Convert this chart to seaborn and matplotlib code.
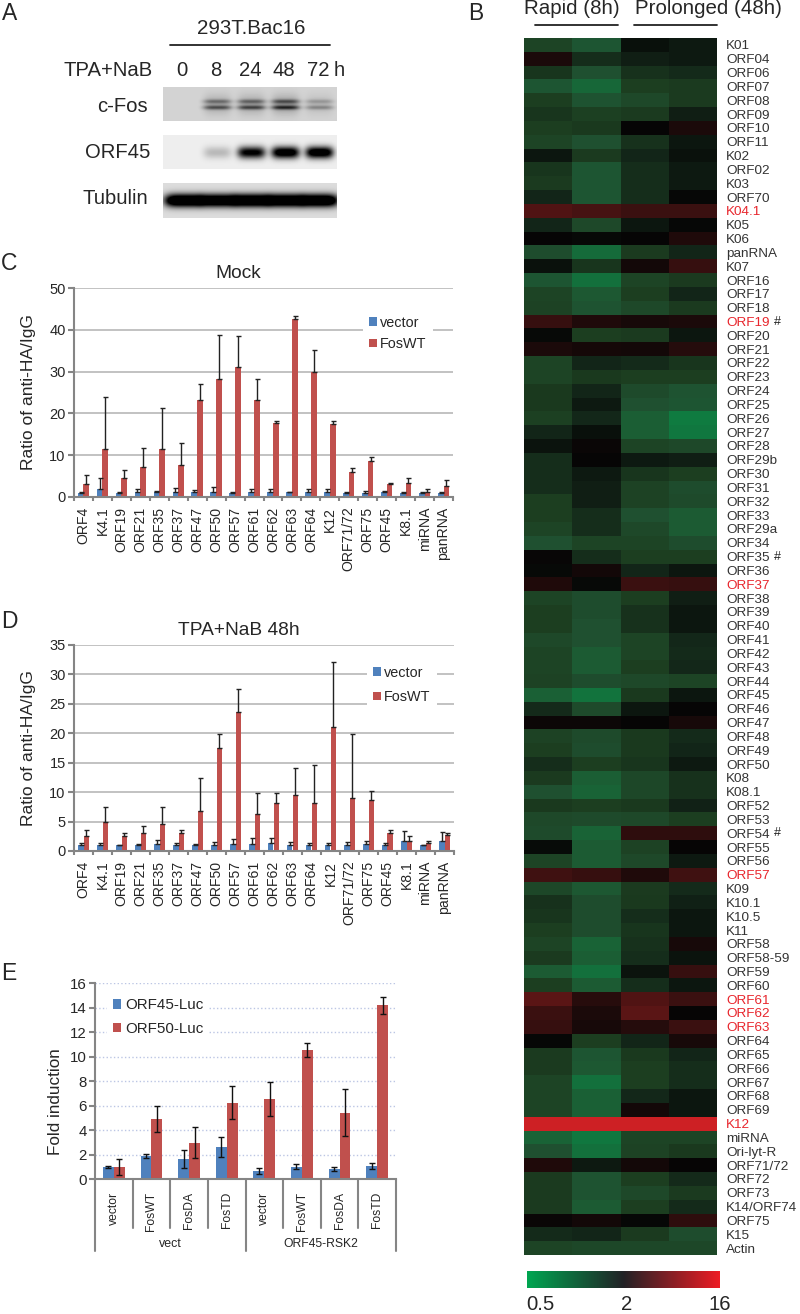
import numpy as np
import pandas as pd
import seaborn as sns
import matplotlib.pyplot as plt
from matplotlib.colors import LinearSegmentedColormap
from matplotlib.transforms import blended_transform_factory

W, H = 800, 1314
BLUE = '#4F81BD'
RED = '#C0504D'
TEXT = '#262626'
GRID = '#BDBDBD'
AXIS = '#858585'

## Panel A - band strength per lane (0 = none, 1 = black)
lanes = ['0', '8', '24', '48', '72']
cfos_bands = [0.0, 0.55, 0.6, 0.72, 0.32]
orf45_bands = [0.0, 0.18, 0.85, 0.98, 1.0]
tubulin_bands = [0.97, 0.93, 0.98, 0.96, 0.96]

## Panels C and D
genes = ['ORF4', 'K4.1', 'ORF19', 'ORF21', 'ORF35', 'ORF37', 'ORF47', 'ORF50', 'ORF57', 'ORF61',
         'ORF62', 'ORF63', 'ORF64', 'K12', 'ORF71/72', 'ORF75', 'ORF45', 'K8.1', 'miRNA', 'panRNA']
mock_vector = [1, 2, 1, 1.1, 1.2, 1.3, 1.3, 1.3, 1, 1.1, 1.1, 1.2, 1.1, 1.1, 1, 1, 1.1, 1, 1, 1]
mock_vector_top = [1.2, 4.6, 1.2, 1.8, 1.4, 2.2, 1.7, 2.4, 1.1, 2, 1.8, 1.3, 2, 1.8, 1.3, 1.5, 1.5, 1.1, 1.3, 1.3]
mock_fos = [3.1, 11.5, 4.6, 7.2, 11.5, 7.7, 23.3, 28.2, 31.1, 23.1, 17.7, 42.5, 29.9, 17.5, 5.9, 8.5, 3.1, 3.3, 1.2, 2.6]
mock_fos_top = [5.2, 24, 6.5, 11.8, 21.2, 13, 27, 38.8, 38.4, 28.3, 18.3, 43.3, 35.2, 18.3, 7, 9.5, 3.3, 4.5, 2, 4.1]

tpa_vector = [1.1, 1.1, 1.1, 1.1, 1.2, 1.1, 1.1, 1.1, 1.2, 1.2, 1.3, 1.1, 1.1, 1.1, 1.1, 1.2, 1.1, 1.7, 1, 1.7]
tpa_vector_top = [1.3, 1.3, 1.1, 1.15, 1.8, 1.3, 1.15, 1.6, 2, 2.2, 2.2, 1.6, 1.4, 1.4, 1.6, 1.7, 1.4, 3.4, 1.05, 3.3]
tpa_fos = [2.6, 5, 2.6, 3, 4.6, 3, 6.7, 17.4, 23.6, 6.3, 8.1, 9.5, 8.1, 21.1, 9, 8.6, 3, 1.7, 1.4, 2.7]
tpa_fos_top = [3.5, 7.5, 3, 4.2, 7.5, 3.6, 12.4, 19.9, 27.4, 9.8, 9.8, 14, 14.6, 32, 19.9, 10.2, 3.6, 2.5, 1.7, 3.1]

## Panel E
luc_labels = ['vector', 'FosWT', 'FosDA', 'FosTD', 'vector', 'FosWT', 'FosDA', 'FosTD']
luc_orf45 = [1.0, 1.9, 1.65, 2.65, 0.7, 1.03, 0.83, 1.07]
luc_orf45_err = [0.1, 0.2, 0.75, 0.8, 0.25, 0.2, 0.17, 0.22]
luc_orf50 = [1.0, 4.9, 3.0, 6.25, 6.55, 10.55, 5.45, 14.2]
luc_orf50_err = [0.65, 1.05, 1.28, 1.35, 1.42, 0.58, 1.9, 0.7]

## Panel B - colour position from -1 (0.5) through 0 (2) to 1 (16)
heat_genes = ['K01', 'ORF04', 'ORF06', 'ORF07', 'ORF08', 'ORF09', 'ORF10', 'ORF11', 'K02', 'ORF02',
              'K03', 'ORF70', 'K04.1', 'K05', 'K06', 'panRNA', 'K07', 'ORF16', 'ORF17', 'ORF18',
              'ORF19', 'ORF20', 'ORF21', 'ORF22', 'ORF23', 'ORF24', 'ORF25', 'ORF26', 'ORF27', 'ORF28',
              'ORF29b', 'ORF30', 'ORF31', 'ORF32', 'ORF33', 'ORF29a', 'ORF34', 'ORF35', 'ORF36', 'ORF37',
              'ORF38', 'ORF39', 'ORF40', 'ORF41', 'ORF42', 'ORF43', 'ORF44', 'ORF45', 'ORF46', 'ORF47',
              'ORF48', 'ORF49', 'ORF50', 'K08', 'K08.1', 'ORF52', 'ORF53', 'ORF54', 'ORF55', 'ORF56',
              'ORF57', 'K09', 'K10.1', 'K10.5', 'K11', 'ORF58', 'ORF58-59', 'ORF59', 'ORF60', 'ORF61',
              'ORF62', 'ORF63', 'ORF64', 'ORF65', 'ORF66', 'ORF67', 'ORF68', 'ORF69', 'K12', 'miRNA',
              'Ori-lyt-R', 'ORF71/72', 'ORF72', 'ORF73', 'K14/ORF74', 'ORF75', 'K15', 'Actin']
red_genes = ['K04.1', 'ORF19', 'ORF37', 'ORF57', 'ORF61', 'ORF62', 'ORF63', 'K12']
hash_genes = ['ORF19', 'ORF35', 'ORF54']
rapid_a = [-.35, .08, -.25, -.5, -.3, -.25, -.3, -.35, -.08, -.25,
           -.28, -.15, .3, -.15, 0, -.42, -.06, -.5, -.35, -.33,
           .18, -.02, .08, -.35, -.35, -.27, -.27, -.32, -.15, -.07,
           -.2, -.2, -.2, -.3, -.3, -.35, -.45, .01, -.02, .1,
           -.35, -.3, -.3, -.38, -.35, -.35, -.33, -.6, -.18, .03,
           -.33, -.3, -.2, -.28, -.45, -.27, -.38, -.4, -.03, -.35,
           .22, -.37, -.22, -.25, -.3, -.35, -.28, -.55, -.3, .35,
           .2, .18, -.01, -.28, -.28, -.35, -.35, -.35, .87, -.62,
           -.45, .1, -.28, -.28, -.28, .02, -.18, -.35]
rapid_b = [-.5, -.2, -.45, -.65, -.48, -.32, -.27, -.45, -.28, -.5,
           -.5, -.5, .25, -.38, -.02, -.68, -.25, -.72, -.52, -.48,
           .1, -.3, .06, -.15, -.27, -.15, -.1, -.17, -.05, .02,
           0, -.1, -.12, -.12, -.2, -.2, -.35, -.2, .05, -.02,
           -.42, -.42, -.45, -.45, -.55, -.55, -.42, -.75, -.4, .03,
           -.4, -.42, -.3, -.58, -.62, -.3, -.4, -.62, -.55, -.55,
           .18, -.52, -.42, -.42, -.42, -.62, -.58, -.72, -.55, .13,
           .08, .07, -.3, -.5, -.52, -.72, -.6, -.6, .87, -.78,
           -.72, -.1, -.48, -.48, -.55, .05, -.15, -.37]
prolonged_a = [-.05, -.12, -.22, -.3, -.38, -.28, 0, -.22, -.15, -.2,
               -.2, -.2, .2, -.08, 0, -.28, .05, -.35, -.3, -.38,
               .07, -.28, .05, -.18, -.3, -.4, -.45, -.58, -.58, -.35,
               -.1, -.25, -.33, -.33, -.45, -.38, -.35, -.3, -.15, .2,
               -.3, -.22, -.22, -.35, -.35, -.3, -.38, -.27, -.08, 0,
               -.27, -.27, -.25, -.37, -.37, -.27, -.38, .15, -.33, -.38,
               .1, -.28, -.27, -.2, -.25, -.22, -.2, -.07, -.2, .3,
               .35, .12, -.15, -.27, -.3, -.3, -.17, .05, .87, -.35,
               -.33, .05, -.3, -.38, -.3, -.01, -.28, -.37]
prolonged_b = [-.1, -.1, -.18, -.28, -.28, -.12, .08, -.08, -.06, -.1,
               -.1, -.01, .2, -.01, .1, -.15, .18, -.28, -.15, -.28,
               .08, -.08, .12, -.25, -.3, -.48, -.5, -.8, -.78, -.38,
               -.12, -.3, -.42, -.4, -.55, -.55, -.42, -.3, -.08, .18,
               -.12, -.08, -.08, -.17, -.18, -.17, -.35, -.08, 0, .07,
               -.18, -.15, -.1, -.22, -.22, -.14, -.3, .15, 0, -.1,
               .22, -.18, -.13, -.08, -.08, .07, -.07, .18, -.08, .2,
               0, .2, .07, -.15, -.2, -.2, -.08, -.08, .87, -.35,
               -.27, 0, -.18, -.28, -.18, .15, -.42, -.37]

sns.set_theme(style='white')
plt.rcParams['font.family'] = ['Liberation Sans', 'DejaVu Sans']
plt.rcParams['text.color'] = TEXT

fig = plt.figure(figsize=(W / 100, H / 100), dpi=100)


def px_axes(x0, y0, x1, y1):
    return fig.add_axes([x0 / W, 1 - y1 / H, (x1 - x0) / W, (y1 - y0) / H])


def px_text(x, y, s, size, ha='center', va='center', **kw):
    fig.text(x / W, 1 - y / H, s, fontsize=size, ha=ha, va=va, **kw)


def px_line(x0, x1, y, lw=1.3, color='#222222'):
    fig.add_artist(plt.Line2D([x0 / W, x1 / W], [1 - y / H, 1 - y / H], color=color, lw=lw))


def blot(x0, y0, x1, y1, bands, bg, rows, half_w):
    # synthetic gel strip built from the band strengths
    ax = px_axes(x0, y0, x1, y1)
    nx, ny = int(x1 - x0), int(y1 - y0)
    xx, yy = np.meshgrid(np.arange(nx), np.arange(ny))
    dark = np.zeros((ny, nx))
    for i, b in enumerate(bands):
        cx = 20 + 34 * i
        for cy, half_h, k in rows:
            dark += b * k * np.exp(-((xx - cx) / half_w) ** 4 - ((yy - cy) / half_h) ** 2)
    img = bg * (1 - np.clip(dark, 0, 1))
    ax.imshow(img, cmap='gray', vmin=0, vmax=255, aspect='auto', interpolation='bilinear')
    ax.set_axis_off()


## Panel A
px_text(10, 13, 'A', 16.5)
px_text(251, 28, '293T.Bac16', 14.8)
px_line(170, 330, 45)
px_text(153, 71, 'TPA+NaB', 14.6, ha='right')
for i, lane in enumerate(lanes):
    px_text(182 + 34 * i, 71, lane, 14.6)
px_text(339, 71, 'h', 14.6)
px_text(148, 106, 'c-Fos', 14.6, ha='right')
px_text(150, 152, 'ORF45', 14.6, ha='right')
px_text(148, 199, 'Tubulin', 14.6, ha='right')
blot(163, 87, 337, 121, cfos_bands, 212, [(14, 2.2, .6), (20, 2.2, .85), (17, 10, .35)], 14)
blot(163, 135, 337, 169, orf45_bands, 238, [(17, 6, 1.25)], 14)
blot(163, 183, 337, 218, tubulin_bands, 220, [(17, 6.5, 1.6)], 19)


def chip_panel(x0, y0, x1, y1, vector, vector_top, fos, fos_top, ymax, step, title, title_y, leg_xy, spacing):
    ax = px_axes(x0, y0, x1, y1)
    n = len(genes)
    df = pd.DataFrame({'gene': genes * 2, 'ratio': list(vector) + list(fos),
                       'group': ['vector'] * n + ['FosWT'] * n})
    sns.barplot(data=df, x='gene', y='ratio', hue='group', palette=[BLUE, RED], width=.6,
                errorbar=None, saturation=1, linewidth=0, ax=ax)
    for cont, vals, tops in zip(ax.containers, [vector, fos], [vector_top, fos_top]):
        xs = [p.get_x() + p.get_width() / 2 for p in cont.patches]
        up = np.array(tops) - np.array(vals)
        ax.errorbar(xs, vals, yerr=[np.zeros(n), up], fmt='none', ecolor='#222222', elinewidth=1,
                    capsize=1.8, capthick=1)
    ax.set_xlim(-.5, n - .5)
    ax.set_ylim(0, ymax)
    ax.set_yticks(np.arange(0, ymax + 1, step))
    ax.set_axisbelow(True)
    ax.yaxis.grid(True, color=GRID, lw=1.3)
    ax.xaxis.grid(False)
    sns.despine(ax=ax)
    for s in ['left', 'bottom']:
        ax.spines[s].set_color(AXIS)
        ax.spines[s].set_linewidth(1.5)
    ax.set_xticks(np.arange(n), genes, rotation=90, fontsize=10.1, color=TEXT)
    ax.set_xticks(np.arange(n + 1) - .5, minor=True)
    ax.tick_params(axis='x', which='major', length=0, pad=7, bottom=False)
    ax.tick_params(axis='x', which='minor', length=3, width=1.5, color=AXIS, bottom=True)
    ax.tick_params(axis='y', length=4, width=1.5, color=AXIS, labelsize=10.5, labelcolor=TEXT, left=True, pad=2)
    ax.set_xlabel('')
    ax.set_ylabel('')
    px_text(29, (y0 + y1) / 2, 'Ratio of anti-HA/IgG', 12.5, rotation=90)
    px_text((x0 + x1) / 2 - 25, title_y, title, 13.8)
    lx = (leg_xy[0] - x0) / (x1 - x0)
    ly = (y1 - leg_xy[1]) / (y1 - y0)
    leg = ax.legend(loc='upper left', bbox_to_anchor=(lx, ly), borderaxespad=0, frameon=True, facecolor='white',
                    edgecolor='none', framealpha=1, fancybox=False, fontsize=10.4, handlelength=.55,
                    handleheight=.55, handletextpad=.25, labelspacing=spacing, borderpad=.4, title=None)
    leg.get_frame().set_linewidth(0)
    return ax


## Panels C and D
px_text(9, 263, 'C', 16.5)
chip_panel(74, 288, 453, 497, mock_vector, mock_vector_top, mock_fos, mock_fos_top, 50, 10,
           'Mock', 274, (363, 310), .5)
px_text(9, 621, 'D', 16.5)
chip_panel(74, 644.5, 454, 851, tpa_vector, tpa_vector_top, tpa_fos, tpa_fos_top, 35, 5,
           'TPA+NaB 48h', 631, (367, 660), .72)

## Panel E
px_text(9, 974, 'E', 16.5)
ax_e = px_axes(95, 983.3, 396, 1179.3)
n_e = len(luc_labels)
df_e = pd.DataFrame({'pos': list(range(n_e)) * 2, 'fold': luc_orf45 + luc_orf50,
                     'reporter': ['ORF45-Luc'] * n_e + ['ORF50-Luc'] * n_e})
sns.barplot(data=df_e, x='pos', y='fold', hue='reporter', palette=[BLUE, RED], width=.58,
            errorbar=None, saturation=1, linewidth=0, ax=ax_e)
for cont, vals, errs in zip(ax_e.containers, [luc_orf45, luc_orf50], [luc_orf45_err, luc_orf50_err]):
    xs = [p.get_x() + p.get_width() / 2 for p in cont.patches]
    ax_e.errorbar(xs, vals, yerr=errs, fmt='none', ecolor='#111111', elinewidth=1, capsize=2.2, capthick=1)
ax_e.set_xlim(-.5, n_e - .5)
ax_e.set_ylim(0, 16)
ax_e.set_yticks(np.arange(0, 17, 2))
ax_e.set_axisbelow(True)
ax_e.yaxis.grid(True, color='#BCC6E4', lw=1, ls=':')
sns.despine(ax=ax_e)
for s in ['left', 'bottom']:
    ax_e.spines[s].set_color(AXIS)
    ax_e.spines[s].set_linewidth(1.5)
ax_e.set_xticks(np.arange(n_e), luc_labels, rotation=90, fontsize=8.7, color=TEXT)
ax_e.tick_params(axis='x', length=0, pad=9, bottom=False)
ax_e.tick_params(axis='y', length=4, width=1.5, color=AXIS, labelsize=10.8, labelcolor=TEXT, left=True, pad=2)
ax_e.set_xlabel('')
ax_e.set_ylabel('')
sep = blended_transform_factory(ax_e.transData, ax_e.transAxes)
for i in range(n_e + 1):
    low = -.367 if i in (0, 4, 8) else -.25
    ax_e.plot([i - .5, i - .5], [0, low], transform=sep, color=AXIS, lw=1.5, clip_on=False)
px_text(55, 1102, 'Fold induction', 12.3, rotation=90)
px_text(170, 1244, 'vect', 8.9)
px_text(321, 1244, 'ORF45-RSK2', 8.7)
leg_e = ax_e.legend(loc='upper left', bbox_to_anchor=(12 / 301, 1 - 9 / 196), borderaxespad=0, frameon=True,
                    facecolor='white', edgecolor='none', framealpha=1, fancybox=False, fontsize=10.9,
                    handlelength=.55, handleheight=.55, handletextpad=.25, labelspacing=.65, borderpad=.4)
leg_e.get_frame().set_linewidth(0)

## Panel B
px_text(476, 13, 'B', 16.5)
px_text(572, 9, 'Rapid (8h)', 14.8)
px_text(708, 9, 'Prolonged (48h)', 14.8)
px_line(535, 618, 24.5)
px_line(634, 717, 24.5)
# the picture's dark greens are greyer than a plain green-black-red ramp
heat_cmap = LinearSegmentedColormap.from_list('gbr', [
    (0.0, '#00A651'), (0.1, '#0F7A40'), (0.2, '#1A6035'), (0.275, '#1F5030'), (0.35, '#1C3E20'),
    (0.425, '#122418'), (0.5, '#050505'), (0.6, '#3A1010'), (0.675, '#5A1515'), (0.935, '#CC2024'),
    (1.0, '#ED1C24')])
bar_cmap = LinearSegmentedColormap.from_list('bar', ['#00A651', '#222226', '#ED1C24'])
ax_h = px_axes(524, 38, 717, 1255)
heat = pd.DataFrame({'r1': rapid_a, 'r2': rapid_b, 'p1': prolonged_a, 'p2': prolonged_b}, index=heat_genes)
sns.heatmap(heat, cmap=heat_cmap, vmin=-1, vmax=1, cbar=False, xticklabels=False, yticklabels=True, ax=ax_h)
ax_h.yaxis.tick_right()
ax_h.tick_params(axis='y', length=0, pad=6.5, labelsize=9.7, labelrotation=0)
for lab in ax_h.get_yticklabels():
    lab.set_color('#E8262D' if lab.get_text() in red_genes else '#333333')
    if lab.get_text() in hash_genes:
        y_row = heat_genes.index(lab.get_text())
        px_text(774, 38 + 13.83 * (y_row + .5), '#', 9, ha='left', color='#222222')

ax_cb = px_axes(527, 1271, 720, 1288)
ax_cb.imshow(np.linspace(-1, 1, 256)[None, :], cmap=bar_cmap, aspect='auto', vmin=-1, vmax=1)
ax_cb.set_axis_off()
px_text(540, 1305, '0.5', 14.6)
px_text(627, 1305, '2', 14.6)
px_text(720, 1305, '16', 14.6)

fig.savefig('out.png', dpi=100, facecolor='white')
